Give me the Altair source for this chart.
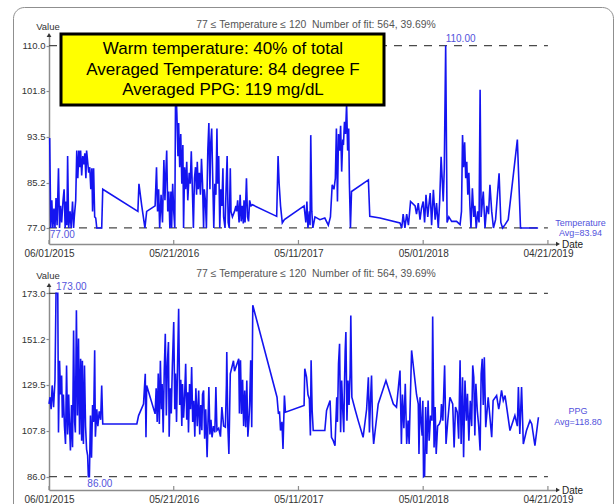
import altair as alt
import pandas as pd

FONT = "Liberation Sans"
BLUE = "#1414f0"
ANN = "#5252dc"
GRAY = "#8c8c8c"

# ---------------- data ----------------
# days after 06/01/2015
temp_days = [2, 5, 8, 11, 14, 17, 20, 23, 27, 30, 33, 36, 40, 43, 46, 48, 51, 53, 56, 60,
             63, 67, 70, 72, 76, 79, 82, 85, 88, 90, 93, 96, 99, 102, 105, 107, 110, 113, 116, 119,
             122, 124, 127, 130, 133, 136, 150, 153, 253, 256, 264, 273, 278, 302, 306, 309, 312, 315, 319, 323,
             327, 330, 332, 335, 338, 341, 344, 347, 349, 352, 355, 358, 360, 362, 364, 367, 369, 372, 375, 378,
             381, 383, 386, 389, 392, 395, 399, 402, 405, 408, 411, 414, 417, 420, 422, 425, 428, 431, 434, 437,
             440, 442, 445, 448, 452, 455, 458, 460, 463, 466, 469, 472, 475, 478, 480, 483, 486, 489, 492, 495,
             497, 501, 504, 507, 510, 513, 516, 518, 522, 528, 532, 534, 537, 541, 544, 547, 550, 553, 555, 558,
             562, 565, 568, 571, 575, 579, 648, 652, 655, 659, 664, 670, 726, 731, 734, 737, 741, 743, 745, 748,
             751, 757, 771, 785, 795, 801, 806, 811, 815, 818, 821, 824, 827, 830, 833, 836, 838, 841, 844, 847,
             850, 853, 855, 858, 861, 909, 913, 942, 999, 1004, 1008, 1013, 1018, 1023, 1029, 1042, 1046, 1051, 1056, 1060,
             1065, 1069, 1073, 1078, 1081, 1085, 1089, 1094, 1099, 1103, 1108, 1112, 1116, 1119, 1122, 1125, 1129, 1133, 1138, 1146,
             1160, 1170, 1174, 1177, 1180, 1183, 1186, 1189, 1192, 1195, 1198, 1201, 1205, 1209, 1212, 1216, 1220, 1224, 1227, 1230,
             1236, 1241, 1246, 1251, 1255, 1260, 1265, 1271, 1281, 1286, 1291, 1298, 1307, 1333, 1342, 1392]
temp_vals = [93.3, 77, 82, 77, 80.5, 77, 82.4, 77.5, 87.8, 77, 81, 78, 82, 84, 77, 81.8, 77.5, 90, 77, 80,
             77, 81.8, 77, 79, 82, 91, 86, 91, 88, 91, 86.5, 90, 88.5, 90.5, 86, 91, 89, 87, 88, 84,
             87.8, 80, 87.8, 79, 78.8, 77, 77, 84, 80, 85, 81, 77, 80, 81, 88, 80, 84, 77, 83, 78,
             89.3, 82, 86, 91, 80, 83.6, 77, 83.6, 77, 85, 80, 77, 99.3, 101, 97.5, 90, 96, 88, 94, 85,
             92, 77, 88, 84, 89, 82, 87, 85, 90.9, 84, 77, 86, 88, 83, 89, 84, 87, 83, 89.5, 85,
             77, 84, 82, 77, 91, 96, 84, 92, 95, 86, 77, 85, 83, 95, 85, 90, 77, 84, 81, 87.8,
             79, 77, 84, 90, 78, 77, 87.8, 80, 79, 80, 81, 80, 82, 78, 83, 78.2, 81, 77.8, 82, 78,
             86, 79, 78.2, 82, 81, 81.2, 79.1, 90, 85, 81, 77.9, 78.5, 81, 78, 81.8, 77, 80, 77.5, 93.8, 80,
             77, 79, 78.5, 78.8, 77.5, 79, 84.8, 84, 86, 95, 81.8, 94, 91, 95.5, 87.2, 93, 92, 96.2, 94, 99.5,
             91, 95, 85, 77, 83.6, 85.7, 79.1, 78.8, 77.9, 77, 79.5, 77, 79.5, 77.5, 81.8, 81, 79.5, 81.5, 78.5, 80.5,
             81.8, 78, 83, 79, 81, 83.3, 77.5, 83.9, 78.5, 81.5, 77, 82, 89.9, 86, 81.8, 87.6, 110, 78, 79, 78.2,
             78.2, 77.6, 80, 93.8, 88, 92.5, 86, 89, 83, 87, 81, 77, 84.2, 79, 81, 77, 80, 78, 102, 79,
             83.6, 77, 81, 79.5, 84.8, 80, 77, 78.5, 86.9, 78, 77, 77.6, 78.5, 93, 77, 77]

ppg_days = [0, 3, 6, 9, 13, 17, 20, 25, 27, 30, 33, 36, 38, 41, 44, 47, 50, 53, 56, 58,
            61, 64, 67, 70, 73, 75, 78, 81, 84, 87, 90, 93, 95, 98, 101, 104, 107, 110, 112, 115,
            118, 121, 124, 127, 130, 132, 136, 139, 143, 147, 150, 153, 250, 255, 269, 274, 276, 278, 302, 305,
            308, 311, 314, 317, 320, 322, 325, 328, 331, 334, 337, 340, 342, 345, 348, 351, 355, 358, 360, 363,
            366, 369, 372, 375, 378, 380, 383, 386, 389, 392, 395, 397, 400, 403, 406, 409, 412, 415, 418, 422,
            426, 429, 432, 435, 437, 440, 443, 446, 450, 453, 455, 458, 461, 464, 468, 472, 475, 478, 483, 488,
            492, 497, 502, 505, 506, 509, 512, 516, 525, 528, 540, 542, 545, 548, 551, 554, 557, 560, 563, 566,
            569, 571, 574, 577, 580, 649, 653, 656, 659, 663, 666, 670, 673, 726, 728, 733, 737, 741, 744, 746,
            749, 752, 785, 790, 800, 804, 809, 814, 819, 821, 824, 827, 830, 833, 836, 839, 841, 843, 845, 848,
            851, 854, 857, 859, 862, 871, 880, 894, 904, 909, 912, 915, 918, 921, 924, 937, 959, 980, 989, 999,
            1003, 1006, 1010, 1014, 1018, 1022, 1025, 1032, 1046, 1051, 1053, 1056, 1059, 1062, 1064, 1066, 1069, 1072, 1075, 1079,
            1082, 1086, 1090, 1092, 1096, 1099, 1102, 1106, 1111, 1115, 1117, 1121, 1126, 1130, 1135, 1141, 1149, 1153, 1157, 1162,
            1166, 1170, 1173, 1177, 1180, 1184, 1188, 1191, 1195, 1199, 1203, 1206, 1209, 1212, 1215, 1219, 1223, 1227, 1230, 1233,
            1236, 1239, 1243, 1250, 1260, 1264, 1274, 1280, 1283, 1288, 1293, 1298, 1312, 1326, 1333, 1336, 1340, 1345, 1350, 1359,
            1369, 1374, 1383, 1393]
ppg_vals = [120.5, 123.7, 118, 129.3, 119, 131.6, 173, 173, 107, 141, 125, 134, 114, 125, 110, 101.5, 138.8, 106, 125, 112,
            98.4, 120, 100, 155.4, 112, 107, 165, 115, 151.5, 106, 142, 103, 141, 101.5, 138.8, 110, 99, 96, 86, 86,
            115, 95, 120, 112, 146, 105, 118, 110, 117, 113, 129.3, 111, 111, 115, 120.5, 134.8, 104.7, 129.3, 115.8, 128,
            112, 135, 111, 141, 118, 130, 107, 136, 153.8, 115, 140, 149.9, 105, 128, 116, 138, 159.4, 118, 135, 112,
            140, 165.7, 120, 132, 110, 130, 114, 124, 139.6, 113, 126, 107, 130, 118, 138, 112, 122, 105, 128, 110,
            126.9, 106, 120, 108, 125, 126.9, 104, 118, 95.2, 115, 128.5, 106, 113, 104.7, 110, 107, 128.5, 108, 109, 105,
            119, 110, 109.5, 130, 145.1, 110, 96.8, 134.8, 141, 136, 141.9, 116, 141.2, 115.8, 132, 110, 126.9, 109.5, 131.6, 105,
            112.6, 120, 141.2, 109.5, 167.3, 123.7, 115.8, 117, 107.9, 112, 99.2, 124.5, 116.6, 119.8, 137.2, 133.2, 125, 122.9, 105.5, 141.2,
            117.4, 107.9, 107.9, 117.4, 122.1, 104.7, 103.1, 100.7, 123.7, 112, 139.6, 149.1, 107.1, 131.6, 118, 107.1, 130, 145.9, 154.6, 112.6,
            131.6, 120, 134.8, 162.5, 123.7, 118, 112.6, 104.7, 118, 133.2, 107, 122, 134, 110, 101.5, 120.5, 131.6, 120.5, 119, 136.4,
            101.5, 125, 109, 130.1, 101.5, 112.6, 101.5, 145.9, 125, 120.5, 96.8, 123.7, 112, 105.5, 122, 86, 86.5, 119, 96.8, 122.1,
            103.1, 115, 112.6, 162, 99.9, 119, 96.8, 110, 111, 113, 120.5, 112.6, 138.8, 101.5, 112.6, 123.7, 120.5, 99.9, 119, 116.6,
            104, 141.2, 101.5, 133.2, 95.2, 131.6, 112.6, 125.3, 103.1, 122, 110, 138.8, 133.2, 105.5, 130.1, 117.4, 110, 98.4, 134.8, 141.9,
            120, 142.7, 109.5, 123.7, 104.7, 122.1, 124.5, 118, 121, 126.9, 122.1, 124.5, 107.9, 115, 110, 128.5, 106.3, 128.5, 101.5, 107.9,
            112.6, 111, 100.7, 114.2]

assert len(temp_days) == len(temp_vals)
assert len(ppg_days) == len(ppg_vals)

tick_labels = ["06/01/2015", "05/21/2016", "05/11/2017", "05/01/2018", "04/21/2019"]
temp_ticks = [77.0, 85.2, 93.5, 101.8, 110.0]
ppg_ticks = [86.0, 107.8, 129.5, 151.2, 173.0]
temp_limits = [77, 110]
ppg_limits = [86, 173]
title_text = "77 \u2264 Temperature \u2264 120\u00a0 Number of fit: 564, 39.69%"
box_text = "Warm temperature: 40% of total\nAveraged Temperature: 84 degree F\nAveraged PPG: 119 mg/dL"
temp_tag = "Temperature\nAvg=83.94"
ppg_tag = "PPG\nAvg=118.80"

# ---------------- helpers ----------------
start = pd.Timestamp("2015-06-01")
temp_df = pd.DataFrame({"Date": [start + pd.Timedelta(days=d) for d in temp_days], "Value": temp_vals})
ppg_df = pd.DataFrame({"Date": [start + pd.Timedelta(days=d) for d in ppg_days], "Value": ppg_vals})
tick_dates = [pd.Timestamp(f"{s[6:]}-{s[0:2]}-{s[3:5]}") for s in tick_labels]
tick_df = pd.DataFrame({"Date": tick_dates})

W = 507
x_scale = alt.Scale(domain=[alt.DateTime(year=2015, month=6, date=1),
                            alt.DateTime(year=2019, month=5, date=14)])
x_axis = alt.Axis(values=[alt.DateTime(year=d.year, month=d.month, date=d.day) for d in tick_dates],
                  format="%m/%d/%Y", title=None, grid=False, ticks=False, tickSize=0,
                  labelPadding=4, labelFontSize=10, labelColor="#333", labelOverlap=False,
                  labelFlush=False, domainColor=GRAY, domainWidth=1.5)
one = pd.DataFrame({"k": [0]})


def panel(df, ydom, yticks, h, limits, tag, tag_x, tag_y, tag_lh, title_y, value_y, date_y, frame=False):
    X = alt.X("Date:T", scale=x_scale, axis=x_axis)
    Y = alt.Y("Value:Q", scale=alt.Scale(domain=ydom, nice=False, zero=False),
              axis=alt.Axis(values=yticks, format=".1f", title=None, grid=False, tickSize=3,
                            tickColor=GRAY, tickWidth=1.2, domainColor=GRAY, domainWidth=1.5,
                            labelFontSize=9.5, labelColor="#333", labelPadding=1))
    layers = []
    if frame:
        layers.append(alt.Chart(one).mark_rect(stroke="#8f8f8f", strokeWidth=1, fillOpacity=0,
                                               cornerRadius=11).encode(
            x=alt.value(-35.5), x2=alt.value(564.5), y=alt.value(-26.5), y2=alt.value(496)))
    ref = pd.DataFrame({"Date": [start, start], "Date2": [tick_dates[-1]] * 2, "Value": limits})
    layers.append(alt.Chart(ref).mark_rule(color="#4a4a4a", strokeWidth=1.2, strokeDash=[8, 7]).encode(
        x=X, x2="Date2:T", y=Y))
    layers.append(alt.Chart(df).mark_line(color=BLUE, strokeWidth=1.6).encode(x=X, y=Y))
    layers.append(alt.Chart(tick_df).mark_rule(color=GRAY, strokeWidth=1.2).encode(
        x=X, y=alt.value(h), y2=alt.value(h - 4)))
    imax = df["Value"].idxmax()
    imin = df["Value"].idxmin()
    hi_df = pd.DataFrame({"Date": [df["Date"][imax]], "Value": [df["Value"][imax]],
                          "label": [f"{df['Value'][imax]:.2f}"]})
    lo_df = pd.DataFrame({"Date": [df["Date"][imin]], "Value": [df["Value"][imin]],
                          "label": [f"{df['Value'][imin]:.2f}"]})
    layers.append(alt.Chart(hi_df).mark_text(align="left", baseline="alphabetic", dy=-3.5,
                                             fontSize=10, color=ANN).encode(x=X, y=Y, text="label:N"))
    layers.append(alt.Chart(lo_df).mark_text(align="left", baseline="top", dy=2, dx=-1,
                                             fontSize=10, color=ANN).encode(x=X, y=Y, text="label:N"))
    # axis arrows
    layers.append(alt.Chart(one).mark_point(shape="triangle-up", filled=True, size=22, color="#333",
                                            opacity=1).encode(x=alt.value(0), y=alt.value(1)))
    layers.append(alt.Chart(one).mark_point(shape="triangle-right", filled=True, size=22, color="#333",
                                            opacity=1).encode(x=alt.value(W + 2), y=alt.value(h)))
    # labels
    layers.append(alt.Chart(one).mark_text(align="center", baseline="alphabetic", fontSize=9.5,
                                           color="#333").encode(
        x=alt.value(-1), y=alt.value(value_y), text=alt.value("Value")))
    layers.append(alt.Chart(one).mark_text(align="left", baseline="alphabetic", fontSize=10,
                                           color="#222").encode(
        x=alt.value(W + 6), y=alt.value(date_y), text=alt.value("Date")))
    layers.append(alt.Chart(one).mark_text(align="center", baseline="alphabetic", fontSize=10.4,
                                           color="#555").encode(
        x=alt.value(267), y=alt.value(title_y), text=alt.value(title_text)))
    layers.append(alt.Chart(one).mark_text(align="center", baseline="middle", fontSize=9,
                                           color=ANN, lineBreak="\n", lineHeight=tag_lh).encode(
        x=alt.value(tag_x), y=alt.value(tag_y), text=alt.value(tag)))
    return layers


top_layers = panel(temp_df, [74.1, 112.1], temp_ticks, 210, temp_limits, temp_tag,
                   531.5, 189, 9.5, -6.3, -4, 213.5, frame=True)
top_layers.append(alt.Chart(one).mark_rect(fill="#ffff00", stroke="black", strokeWidth=3).encode(
    x=alt.value(12), x2=alt.value(335), y=alt.value(0), y2=alt.value(71)))
top_layers.append(alt.Chart(one).mark_text(align="center", baseline="middle", fontSize=17,
                                           color="black", lineBreak="\n", lineHeight=20.5).encode(
    x=alt.value(174), y=alt.value(15), text=alt.value(box_text)))
top = alt.layer(*top_layers).properties(width=W, height=210)

bottom_layers = panel(ppg_df, [79.69, 177.41], ppg_ticks, 206, ppg_limits, ppg_tag,
                      529, 127, 10.5, -7, -5, 209.5)
bottom = alt.layer(*bottom_layers).properties(width=W, height=206)

chart = alt.vconcat(top, bottom, spacing=40, bounds="flush").properties(
    padding={"left": 13, "top": 7, "right": 2, "bottom": -27},
    background="white",
).configure(font=FONT).configure_view(stroke=None)

chart.save("out.html", embed_options={"renderer": "svg", "actions": False})
